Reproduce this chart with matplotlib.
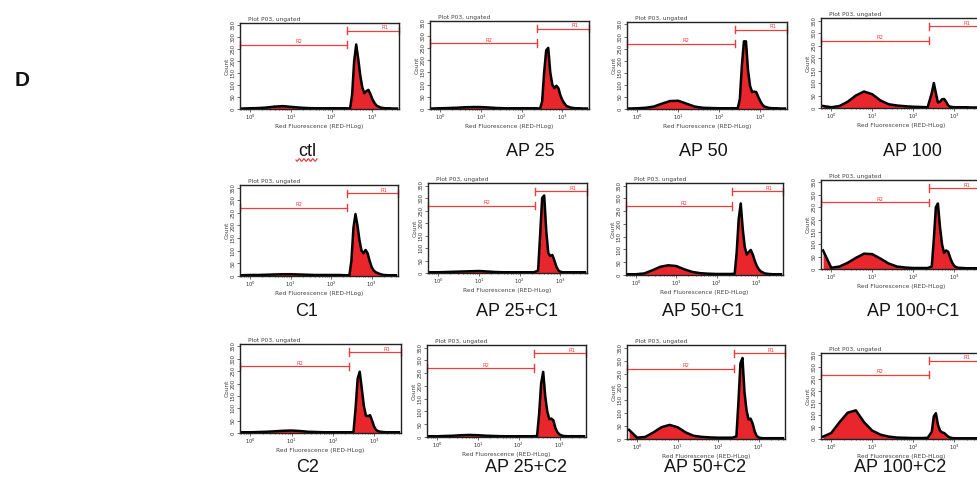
import numpy as np
import matplotlib
matplotlib.use("Agg")
import matplotlib.pyplot as plt
from matplotlib.lines import Line2D

# histogram bin centres, log10 of red fluorescence
bin_log = [-0.2, 0.0, 0.2, 0.4, 0.6, 0.8, 1.0, 1.2, 1.4, 1.6, 1.8, 2.0, 2.2,
           2.35, 2.45, 2.5, 2.55, 2.6, 2.65, 2.7, 2.75, 2.8, 2.85, 2.9, 2.95,
           3.0, 3.05, 3.1, 3.2, 3.3, 3.4, 3.5, 3.6]

# counts per bin
ctl = [2, 3, 4, 6, 10, 12, 9, 6, 4, 3, 3, 3, 3,
       3, 2, 60, 200, 270, 210, 140, 90, 66, 75, 80, 62,
       40, 25, 14, 6, 3, 3, 2, 2]
ap25 = [2, 3, 4, 5, 7, 8, 8, 6, 4, 3, 3, 3, 3,
        3, 2, 30, 150, 240, 250, 150, 100, 85, 95, 85, 55,
        35, 22, 12, 6, 3, 3, 2, 2]
ap50 = [2, 3, 5, 10, 22, 33, 34, 22, 10, 5, 4, 3, 3,
        3, 3, 40, 180, 280, 280, 160, 95, 70, 72, 70, 50,
        32, 18, 10, 5, 3, 3, 2, 2]
ap100 = [8, 3, 8, 25, 50, 66, 55, 30, 15, 10, 7, 5, 4,
         3, 60, 100, 60, 22, 25, 35, 36, 25, 10, 5, 4,
         3, 3, 3, 3, 3, 2, 2, 2]
c1 = [3, 4, 4, 5, 6, 7, 7, 6, 5, 4, 4, 4, 4,
      3, 3, 60, 190, 245, 200, 140, 100, 90, 103, 90, 60,
      35, 22, 15, 8, 4, 3, 3, 3]
ap25_c1 = [3, 3, 4, 5, 6, 7, 8, 6, 4, 3, 3, 3, 3,
           3, 10, 150, 300, 310, 170, 80, 68, 72, 50, 25, 10,
           5, 3, 3, 3, 3, 3, 3, 3]
ap50_c1 = [3, 3, 6, 18, 32, 38, 35, 22, 12, 7, 5, 4, 4,
           4, 5, 90, 220, 280, 180, 110, 80, 90, 98, 80, 55,
           35, 22, 14, 6, 4, 3, 3, 3]
ap100_c1 = [75, 5, 10, 25, 45, 62, 60, 42, 22, 10, 6, 4, 4,
            4, 10, 120, 250, 265, 170, 100, 65, 75, 70, 45, 25,
            12, 7, 5, 4, 3, 3, 3, 3]
c2 = [3, 3, 4, 5, 7, 9, 10, 8, 5, 4, 3, 3, 3,
      3, 3, 5, 100, 220, 248, 180, 110, 70, 68, 72, 50,
      25, 12, 7, 4, 3, 3, 3, 3]
ap25_c2 = [3, 3, 4, 5, 7, 8, 7, 5, 4, 3, 3, 3, 3,
           3, 4, 90, 210, 255, 160, 100, 70, 72, 65, 35, 18,
           10, 6, 4, 3, 3, 3, 3, 3]
ap50_c2 = [35, 5, 8, 25, 45, 54, 45, 25, 12, 8, 6, 5, 5,
           5, 10, 140, 290, 310, 180, 110, 75, 78, 60, 30, 12,
           6, 4, 3, 3, 3, 3, 3, 3]
ap100_c2 = [10, 25, 70, 110, 120, 70, 35, 18, 10, 6, 5, 4, 4,
            5, 30, 95, 108, 60, 35, 28, 25, 18, 10, 6, 4,
            3, 3, 3, 3, 3, 3, 3, 3]

samples = [ctl, ap25, ap50, ap100,
           c1, ap25_c1, ap50_c1, ap100_c1,
           c2, ap25_c2, ap50_c2, ap100_c2]
captions = ["ctl", "AP 25", "AP 50", "AP 100",
            "C1", "AP 25+C1", "AP 50+C1", "AP 100+C1",
            "C2", "AP 25+C2", "AP 50+C2", "AP 100+C2"]

# gate limits (log10 units)
gate_split = 2.38
gate_min, gate_max = -0.25, 3.65

W, H = 978, 480
# axes boxes in pixels: left, top, right, bottom
boxes = [(240, 23, 399, 109), (430, 21, 589, 109), (627, 22, 787, 109), (821, 18, 981, 108),
         (240, 185, 398, 276), (428, 183, 587, 273), (626, 183, 783, 275), (821, 180, 981, 269),
         (240, 344, 401, 433), (427, 345, 586, 437), (627, 345, 785, 439), (821, 353, 981, 439)]
caption_pos = [(307, 152), (530, 152), (703, 152), (912, 152),
               (307, 312), (517, 312), (703, 312), (913, 312),
               (308, 467), (526, 467), (705, 467), (900, 467)]

RED = "#e8262b"
GATE = "#f03c3c"

fig = plt.figure(figsize=(W / 100, H / 100), dpi=100)
fig.patch.set_facecolor("white")

xs = 10 ** np.array(bin_log)

for counts, (l, t, r, b) in zip(samples, boxes):
    ax = fig.add_axes([l / W, 1 - b / H, (r - l) / W, (b - t) / H])
    ax.fill_between(xs, counts, 0, color=RED, lw=0)
    ax.plot(xs, counts, color="black", lw=1.8, solid_joinstyle="round")
    ax.set_xscale("log")
    ax.set_xlim(10 ** gate_min, 10 ** gate_max)
    ax.set_ylim(0, 360)
    ax.set_yticks(range(0, 351, 50))
    ax.set_xticks([1, 10, 100, 1000])
    ax.tick_params(axis="both", labelsize=3.8, length=2, width=0.5,
                   pad=1, colors="#333333")
    ax.tick_params(axis="x", which="minor", length=1, width=0.4)
    for lab in ax.get_yticklabels():
        lab.set_rotation(90)
        lab.set_va("center")
    for sp in ax.spines.values():
        sp.set_linewidth(1.0)
        sp.set_color("#222222")
    ax.set_xlabel("Red Fluorescence (RED-HLog)", fontsize=4.2,
                  color="#444444", labelpad=1)
    ax.set_ylabel("Count", fontsize=4.2, color="#444444", labelpad=1)
    ax.text(0.05, 1.01, "Plot P03, ungated", transform=ax.transAxes,
            fontsize=4.2, color="#444444", va="bottom", ha="left")

    # gates R2 (left) and R1 (right)
    trans = ax.get_xaxis_transform()
    y2, y1 = 0.75, 0.91
    x_lo, x_mid, x_hi = 10 ** gate_min, 10 ** gate_split, 10 ** gate_max
    ax.plot([x_lo, x_mid], [y2, y2], color=GATE, lw=0.9, transform=trans, clip_on=False)
    ax.plot([x_mid, x_hi], [y1, y1], color=GATE, lw=0.9, transform=trans, clip_on=False)
    for xv, yv in [(x_lo, y2), (x_mid, y2), (x_mid, y1), (x_hi, y1)]:
        ax.plot([xv, xv], [yv - 0.04, yv + 0.04], color=GATE, lw=1.0,
                transform=trans, clip_on=False)
    ax.text(10 ** 1.2, y2 + 0.005, "R2", color=GATE, fontsize=3.8,
            ha="center", va="bottom", transform=trans)
    ax.text(10 ** 3.3, y1 + 0.005, "R1", color=GATE, fontsize=3.8,
            ha="center", va="bottom", transform=trans)

for text, (cx, cy) in zip(captions, caption_pos):
    fig.text(cx / W, 1 - cy / H, text, fontsize=13, color="#151515",
             family="Liberation Sans", ha="center", va="center")

# spell-check squiggle under "ctl"
sx = np.linspace(296, 317, 30)
sy = 160 + 1.3 * np.sin((sx - 296) * 1.4)
fig.add_artist(Line2D(sx / W, 1 - sy / H, color="#e03030", lw=0.8))

fig.text(22 / W, 1 - 80 / H, "D", fontsize=15, fontweight="bold",
         family="Liberation Sans", ha="center", va="center", color="#111111")

fig.savefig("out.png", dpi=100)
